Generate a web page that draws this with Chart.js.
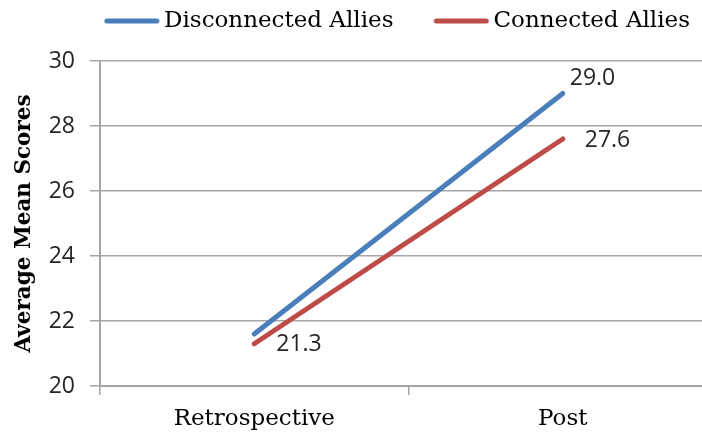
<!DOCTYPE html>
<html>
<head>
<meta charset="utf-8">
<script src="https://cdn.jsdelivr.net/npm/chart.js@4/dist/chart.umd.min.js"></script>
<style>
  html, body { margin: 0; padding: 0; background: #fff; overflow: hidden; }
  canvas { display: block; }
</style>
</head>
<body>
<canvas id="chart" width="722" height="438"></canvas>
<script>
// ---- data ----
const categories = ['Retrospective', 'Post'];
const seriesNames = ['Disconnected Allies', 'Connected Allies'];
const disconnectedAllies = [21.6, 29.0];
const connectedAllies = [21.3, 27.6];
const yTicks = [20, 22, 24, 26, 28, 30];
// which points carry a printed value
const disconnectedLabelled = [false, true];
const connectedLabelled = [true, true];

// ---- styling ----
const BLUE = '#4A7EBB';
const RED = '#BE4B48';
const GRID = '#a6a6a6';
const SERIF = '"DejaVu Serif", serif';
const SANS = '"Open Sans", sans-serif';
// where each value label sits relative to its point (px)
const labelOffsets = [
  [null, { dx: 7, dy: -15 }],
  [{ dx: 22, dy: 1 }, { dx: 22, dy: 1 }]
];

// legend swatch: a short rounded stroke, drawn off-centre so it sits just before the text
function legendSwatch(color) {
  const c = document.createElement('canvas');
  c.width = 80; c.height = 8;
  const g = c.getContext('2d');
  g.strokeStyle = color;
  g.lineWidth = 5;
  g.lineCap = 'round';
  g.beginPath();
  g.moveTo(25, 4);
  g.lineTo(75, 4);
  g.stroke();
  return c;
}
const swatches = [legendSwatch(BLUE), legendSwatch(RED)];

// leave room between the legend row and the plot
const legendGap = {
  id: 'legendGap',
  afterInit(chart) {
    const fit = chart.legend.fit;
    chart.legend.fit = function () {
      fit.call(this);
      this.height += 18.5;
    };
  }
};

// value labels next to the points
const valueLabels = {
  id: 'valueLabels',
  afterDatasetsDraw(chart) {
    const ctx = chart.ctx;
    ctx.save();
    ctx.font = '23px ' + SANS;
    ctx.fillStyle = '#262626';
    ctx.textAlign = 'left';
    ctx.textBaseline = 'middle';
    chart.data.datasets.forEach((ds, di) => {
      chart.getDatasetMeta(di).data.forEach((pt, i) => {
        if (!ds.labelled[i]) return;
        const off = labelOffsets[di][i];
        ctx.fillText(ds.data[i].toFixed(1), pt.x + off.dx, pt.y + off.dy);
      });
    });
    ctx.restore();
  }
};

new Chart(document.getElementById('chart'), {
  type: 'line',
  data: {
    labels: categories,
    datasets: [
      {
        label: seriesNames[0],
        data: disconnectedAllies,
        labelled: disconnectedLabelled,
        borderColor: BLUE,
        backgroundColor: BLUE,
        borderWidth: 5,
        borderCapStyle: 'round',
        pointRadius: 0,
        pointHoverRadius: 0,
        tension: 0
      },
      {
        label: seriesNames[1],
        data: connectedAllies,
        labelled: connectedLabelled,
        borderColor: RED,
        backgroundColor: RED,
        borderWidth: 5,
        borderCapStyle: 'round',
        pointRadius: 0,
        pointHoverRadius: 0,
        tension: 0
      }
    ]
  },
  options: {
    responsive: false,
    animation: false,
    devicePixelRatio: 1,
    layout: { padding: { top: -17.5, right: 5, left: 0, bottom: 0 } },
    plugins: {
      tooltip: { enabled: false },
      legend: {
        position: 'top',
        align: 'end',
        labels: {
          usePointStyle: true,
          pointStyleWidth: 61.5,
          padding: 27,
          color: '#000',
          font: { family: SERIF, size: 23 },
          generateLabels(chart) {
            const items = Chart.defaults.plugins.legend.labels.generateLabels(chart);
            items.forEach((it, i) => { it.pointStyle = swatches[i]; });
            return items;
          }
        }
      }
    },
    scales: {
      x: {
        offset: true,
        grid: {
          display: true,
          offset: true,
          drawOnChartArea: false,
          drawTicks: true,
          tickLength: 9,
          color: GRID,
          lineWidth: 1.5
        },
        border: { display: true, color: GRID, width: 2 },
        ticks: {
          color: '#000',
          font: { family: SERIF, size: 23 },
          padding: 10
        },
        afterFit(scale) { scale.height = 52; }
      },
      y: {
        min: 20,
        max: 30,
        ticks: {
          stepSize: 2,
          color: '#262626',
          font: { family: SANS, size: 23 },
          padding: 15
        },
        afterBuildTicks(scale) {
          scale.ticks = yTicks.map(v => ({ value: v }));
        },
        grid: {
          color: GRID,
          lineWidth: 1.5,
          tickLength: 10
        },
        border: { display: true, color: GRID, width: 2 },
        title: {
          display: true,
          text: 'Average Mean Scores',
          color: '#000',
          font: { family: SERIF, size: 21.5, weight: 'bold' },
          padding: { top: 12, bottom: 0 }
        },
        afterFit(scale) { scale.width = 100; }
      }
    }
  },
  plugins: [legendGap, valueLabels]
});
</script>
</body>
</html>
